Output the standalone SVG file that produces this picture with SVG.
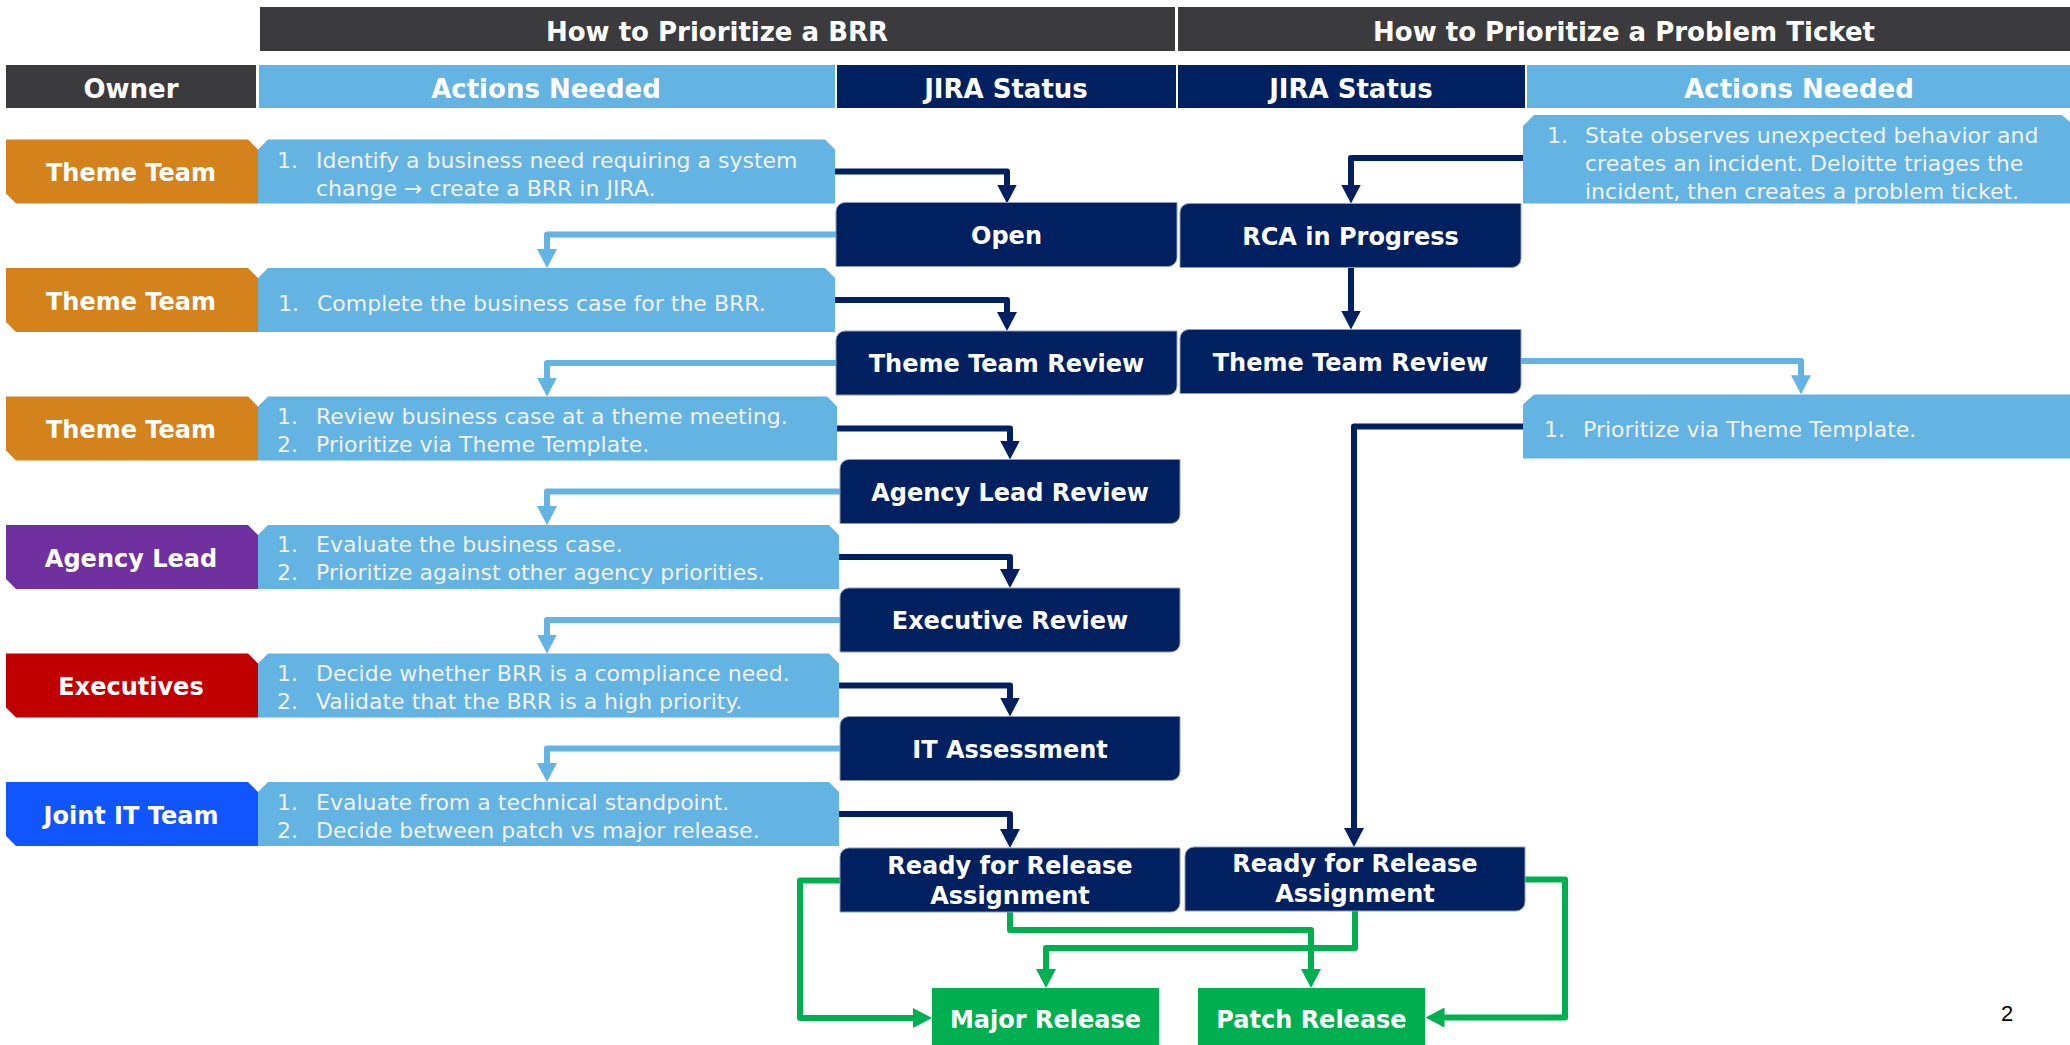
<svg xmlns="http://www.w3.org/2000/svg" width="2070" height="1045" viewBox="0 0 2070 1045">
<style>
.hdr{font-family:"DejaVu Sans",Verdana,sans-serif;font-weight:bold;font-size:26px;fill:#fff;text-anchor:middle}
.own{font-family:"DejaVu Sans",Verdana,sans-serif;font-weight:bold;font-size:24px;fill:#fff;text-anchor:middle}
.st{font-family:"DejaVu Sans",Verdana,sans-serif;font-weight:bold;font-size:24px;fill:#fff;text-anchor:middle}
.act{font-family:"DejaVu Sans",Verdana,sans-serif;font-size:22px;fill:#F2F2F2}
.abox{fill:#63B3E3}
.sbox{fill:#002060;stroke:#8C9BBB;stroke-width:1}
.gbox{fill:#00B050}
.navy{fill:none;stroke:#002060;stroke-width:6;stroke-linejoin:round}
.lb{fill:none;stroke:#63B3E3;stroke-width:6;stroke-linejoin:round}
.gr{fill:none;stroke:#00B050;stroke-width:6;stroke-linejoin:round}
</style>
<defs>
<marker id="aN" viewBox="0 0 19 20" markerWidth="19" markerHeight="20" refX="1" refY="10" orient="auto" markerUnits="userSpaceOnUse"><path d="M0,0 L19,10 L0,20 z" fill="#002060"/></marker>
<marker id="aL" viewBox="0 0 19 20" markerWidth="19" markerHeight="20" refX="1" refY="10" orient="auto" markerUnits="userSpaceOnUse"><path d="M0,0 L19,10 L0,20 z" fill="#63B3E3"/></marker>
<marker id="aG" viewBox="0 0 19 20" markerWidth="19" markerHeight="20" refX="1" refY="10" orient="auto" markerUnits="userSpaceOnUse"><path d="M0,0 L19,10 L0,20 z" fill="#00B050"/></marker>
</defs>
<rect width="2070" height="1045" fill="#fff"/>

<g id="headers">
<rect x="260" y="7" width="915" height="44" fill="#3B3B3D"/>
<text class="hdr" x="717" y="40.5">How to Prioritize a BRR</text>
<rect x="1178" y="7" width="892" height="44" fill="#3B3B3D"/>
<text class="hdr" x="1624" y="40.5">How to Prioritize a Problem Ticket</text>
<rect x="6" y="65" width="250" height="43" fill="#3B3B3D"/>
<text class="hdr" x="131" y="98">Owner</text>
<rect x="259" y="65" width="576" height="43" fill="#63B3E3"/>
<text class="hdr" x="546" y="98">Actions Needed</text>
<rect x="837" y="65" width="339" height="43" fill="#002060"/>
<text class="hdr" x="1006" y="98">JIRA Status</text>
<rect x="1178" y="65" width="347" height="43" fill="#002060"/>
<text class="hdr" x="1351" y="98">JIRA Status</text>
<rect x="1527" y="65" width="543" height="43" fill="#63B3E3"/>
<text class="hdr" x="1799" y="98">Actions Needed</text>
</g>

<g id="connectors">
<path class="navy" d="M835,171.5 H1007 V185.5" marker-end="url(#aN)"/>
<path class="navy" d="M835,300 H1007 V313" marker-end="url(#aN)"/>
<path class="navy" d="M837,428.5 H1010 V441.5" marker-end="url(#aN)"/>
<path class="navy" d="M839,557 H1010 V570" marker-end="url(#aN)"/>
<path class="navy" d="M839,685.5 H1010 V698.5" marker-end="url(#aN)"/>
<path class="navy" d="M839,814 H1010 V830" marker-end="url(#aN)"/>
<path class="lb" d="M836,234.5 H547 V250" marker-end="url(#aL)"/>
<path class="lb" d="M836,363 H547 V378.5" marker-end="url(#aL)"/>
<path class="lb" d="M840,491.5 H547 V507" marker-end="url(#aL)"/>
<path class="lb" d="M840,620 H547 V635.5" marker-end="url(#aL)"/>
<path class="lb" d="M840,748.5 H547 V764" marker-end="url(#aL)"/>
<path class="navy" d="M1523,158 H1351 V185.5" marker-end="url(#aN)"/>
<path class="navy" d="M1351,267.5 V311.5" marker-end="url(#aN)"/>
<path class="lb" d="M1521,361 H1801 V376.3" marker-end="url(#aL)"/>
<path class="navy" d="M1523,426.5 H1354 V829" marker-end="url(#aN)"/>
<path class="gr" d="M840,880.5 H800 V1018 H914" marker-end="url(#aG)"/>
<path class="gr" d="M1010,912 V930 H1311 V970" marker-end="url(#aG)"/>
<path class="gr" d="M1355,911 V948 H1046 V970" marker-end="url(#aG)"/>
<path class="gr" d="M1525,879.5 H1565 V1017.5 H1443.5" marker-end="url(#aG)"/>
</g>

<g id="owner1"><polygon points="6,139.5 248,139.5 258,149.5 258,203.5 16,203.5 6,193.5" fill="#D4831C"/><text class="own" x="131" y="181">Theme Team</text></g>
<g id="owner2"><polygon points="6,268 248,268 258,278 258,332 16,332 6,322" fill="#D4831C"/><text class="own" x="131" y="309.5">Theme Team</text></g>
<g id="owner3"><polygon points="6,396.5 248,396.5 258,406.5 258,460.5 16,460.5 6,450.5" fill="#D4831C"/><text class="own" x="131" y="438">Theme Team</text></g>
<g id="owner4"><polygon points="6,525 248,525 258,535 258,589 16,589 6,579" fill="#7030A0"/><text class="own" x="131" y="566.5">Agency Lead</text></g>
<g id="owner5"><polygon points="6,653.5 248,653.5 258,663.5 258,717.5 16,717.5 6,707.5" fill="#C00000"/><text class="own" x="131" y="695">Executives</text></g>
<g id="owner6"><polygon points="6,782 248,782 258,792 258,846 16,846 6,836" fill="#1155FF"/><text class="own" x="131" y="823.5">Joint IT Team</text></g>

<g id="action1"><polygon class="abox" points="268,139.5 825,139.5 835,149.5 835,203.5 258,203.5 258,149.5"/>
<text class="act" x="277" y="168">1.</text><text class="act" x="316" y="168">Identify a business need requiring a system</text><text class="act" x="316" y="196">change → create a BRR in JIRA.</text></g>
<g id="action2"><polygon class="abox" points="268,268 825,268 835,278 835,332 258,332 258,278"/>
<text class="act" x="278" y="311">1.</text><text class="act" x="317" y="311">Complete the business case for the BRR.</text></g>
<g id="action3"><polygon class="abox" points="268,396.5 827,396.5 837,406.5 837,460.5 258,460.5 258,406.5"/>
<text class="act" x="277" y="424">1.</text><text class="act" x="316" y="424">Review business case at a theme meeting.</text>
<text class="act" x="277" y="452">2.</text><text class="act" x="316" y="452">Prioritize via Theme Template.</text></g>
<g id="action4"><polygon class="abox" points="268,525 829,525 839,535 839,589 258,589 258,535"/>
<text class="act" x="277" y="552">1.</text><text class="act" x="316" y="552">Evaluate the business case.</text>
<text class="act" x="277" y="580">2.</text><text class="act" x="316" y="580">Prioritize against other agency priorities.</text></g>
<g id="action5"><polygon class="abox" points="268,653.5 829,653.5 839,663.5 839,717.5 258,717.5 258,663.5"/>
<text class="act" x="277" y="681">1.</text><text class="act" x="316" y="681">Decide whether BRR is a compliance need.</text>
<text class="act" x="277" y="709">2.</text><text class="act" x="316" y="709">Validate that the BRR is a high priority.</text></g>
<g id="action6"><polygon class="abox" points="268,782 829,782 839,792 839,846 258,846 258,792"/>
<text class="act" x="277" y="810">1.</text><text class="act" x="316" y="810">Evaluate from a technical standpoint.</text>
<text class="act" x="277" y="838">2.</text><text class="act" x="316" y="838">Decide between patch vs major release.</text></g>

<g id="status-open"><path class="sbox" d="M845,202.5 H1177 V257.5 A9,9 0 0 1 1168,266.5 H836 V211.5 A9,9 0 0 1 845,202.5 Z"/><text class="st" x="1006.5" y="243.5">Open</text></g>
<g id="status-ttr"><path class="sbox" d="M845,331 H1177 V386 A9,9 0 0 1 1168,395 H836 V340 A9,9 0 0 1 845,331 Z"/><text class="st" x="1006.5" y="372">Theme Team Review</text></g>
<g id="status-alr"><path class="sbox" d="M849,459.5 H1180 V514.5 A9,9 0 0 1 1171,523.5 H840 V468.5 A9,9 0 0 1 849,459.5 Z"/><text class="st" x="1010" y="500.5">Agency Lead Review</text></g>
<g id="status-exec"><path class="sbox" d="M849,588 H1180 V643 A9,9 0 0 1 1171,652 H840 V597 A9,9 0 0 1 849,588 Z"/><text class="st" x="1010" y="629">Executive Review</text></g>
<g id="status-it"><path class="sbox" d="M849,716.5 H1180 V771.5 A9,9 0 0 1 1171,780.5 H840 V725.5 A9,9 0 0 1 849,716.5 Z"/><text class="st" x="1010" y="757.5">IT Assessment</text></g>
<g id="status-ready1"><path class="sbox" d="M849,848 H1180 V903 A9,9 0 0 1 1171,912 H840 V857 A9,9 0 0 1 849,848 Z"/><text class="st" x="1010" y="873.5">Ready for Release</text><text class="st" x="1010" y="903.5">Assignment</text></g>

<g id="p-action1"><polygon class="abox" points="1534,115 2062,115 2070,122 2070,203.5 1523,203.5 1523,126"/>
<text class="act" x="1547" y="143">1.</text><text class="act" x="1585" y="143">State observes unexpected behavior and</text><text class="act" x="1585" y="171">creates an incident. Deloitte triages the</text><text class="act" x="1585" y="199">incident, then creates a problem ticket.</text></g>
<g id="status-rca"><path class="sbox" d="M1189,203.5 H1521 V258.5 A9,9 0 0 1 1512,267.5 H1180 V212.5 A9,9 0 0 1 1189,203.5 Z"/><text class="st" x="1350.5" y="244.5">RCA in Progress</text></g>
<g id="status-ttr2"><path class="sbox" d="M1189,329.5 H1521 V384.5 A9,9 0 0 1 1512,393.5 H1180 V338.5 A9,9 0 0 1 1189,329.5 Z"/><text class="st" x="1350.5" y="370.5">Theme Team Review</text></g>
<g id="p-action2"><polygon class="abox" points="1534,394.5 2070,394.5 2070,458.5 1523,458.5 1523,404.5"/>
<text class="act" x="1544" y="437">1.</text><text class="act" x="1583" y="437">Prioritize via Theme Template.</text></g>
<g id="status-ready2"><path class="sbox" d="M1194,847 H1525 V902 A9,9 0 0 1 1516,911 H1185 V856 A9,9 0 0 1 1194,847 Z"/><text class="st" x="1355" y="872">Ready for Release</text><text class="st" x="1355" y="902">Assignment</text></g>

<g id="major-release"><rect class="gbox" x="932" y="988" width="227" height="57"/><text class="st" x="1045.5" y="1028">Major Release</text></g>
<g id="patch-release"><rect class="gbox" x="1198" y="988" width="227" height="57"/><text class="st" x="1311.5" y="1028">Patch Release</text></g>

<text x="2007" y="1021" font-family="Liberation Sans, Arial, sans-serif" font-size="22" text-anchor="middle" fill="#000">2</text>
</svg>
